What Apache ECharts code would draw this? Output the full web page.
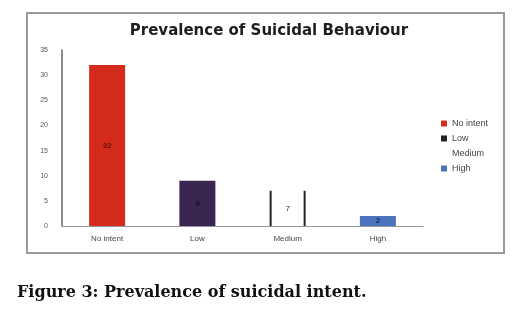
<!DOCTYPE html>
<html>
<head>
<meta charset="utf-8">
<script src="https://cdn.jsdelivr.net/npm/echarts@6/dist/echarts.min.js"></script>
<style>
  html, body { margin: 0; padding: 0; background: #fff; }
  #chart-container { width: 527px; height: 313px; }
</style>
</head>
<body>
<div id="chart-container"></div>
<script>
var categories = ['No intent', 'Low', 'Medium', 'High'];
var noIntent = [32, '-', '-', '-'];
var low = ['-', 9, '-', '-'];
var medium = [['Medium', 7]];
var high = ['-', '-', '-', 2];
var yTicks = [0, 5, 10, 15, 20, 25, 30, 35];

var myChart = echarts.init(document.getElementById('chart-container'));

// bars with the value written in the middle
function barSeries(name, data, color, labelColor) {
    return {
        name: name,
        type: 'bar',
        stack: 'all',
        barWidth: 36,
        data: data,
        itemStyle: { color: color },
        label: {
            show: true,
            position: 'inside',
            fontSize: 8,
            fontWeight: 'bold',
            color: labelColor
        }
    };
}

var option = {
    backgroundColor: '#fff',
    animation: false,
    title: {
        text: 'Prevalence of Suicidal Behaviour',
        left: 264,
        textAlign: 'center',
        top: 19,
        textStyle: {
            fontFamily: 'DejaVu Sans',
            fontSize: 15,
            fontWeight: 'bold',
            color: '#1e1e1e'
        }
    },
    legend: {
        orient: 'vertical',
        left: 436,
        top: 114,
        itemWidth: 6,
        itemHeight: 6,
        itemGap: 6,
        textStyle: { fontFamily: 'Liberation Sans', fontSize: 9, color: '#444' },
        data: [
            { name: 'No intent', icon: 'rect' },
            { name: 'Low', icon: 'rect', itemStyle: { color: '#222' } },
            { name: 'Medium', icon: 'rect', itemStyle: { color: 'rgba(0,0,0,0)' } },
            { name: 'High', icon: 'rect' }
        ]
    },
    grid: { left: 62, right: 104, top: 50, bottom: 87 },
    xAxis: {
        type: 'category',
        data: categories,
        axisLine: { lineStyle: { color: '#999', width: 1 } },
        axisTick: { show: false },
        axisLabel: { fontFamily: 'Liberation Sans', fontSize: 8, color: '#444', margin: 9 }
    },
    yAxis: {
        type: 'value',
        min: yTicks[0],
        max: yTicks[yTicks.length - 1],
        interval: 5,
        splitLine: { show: false },
        axisLine: { show: true, lineStyle: { color: '#666', width: 1.5 } },
        axisTick: { show: false },
        axisLabel: { fontFamily: 'Liberation Sans', fontSize: 7, color: '#555', margin: 14 }
    },
    graphic: [
        {
            type: 'rect',
            shape: { x: 27, y: 13, width: 477, height: 240 },
            style: { fill: 'none', stroke: '#999', lineWidth: 2 }
        },
        {
            type: 'text',
            left: 17,
            top: 285,
            style: {
                text: 'Figure 3: Prevalence of suicidal intent.',
                fontFamily: 'DejaVu Serif',
                fontWeight: 'bold',
                fontSize: 16,
                fill: '#111'
            }
        }
    ],
    series: [
        barSeries('No intent', noIntent, '#d42b1c', '#6b0f08'),
        barSeries('Low', low, '#3b2652', '#1a1025'),
        {
            // the medium bar is only drawn as two upright lines
            name: 'Medium',
            type: 'custom',
            data: medium,
            itemStyle: { color: '#222' },
            renderItem: function (params, api) {
                var base = api.coord([api.value(0), 0]);
                var top = api.coord([api.value(0), api.value(1)]);
                var half = 17;
                return {
                    type: 'group',
                    children: [
                        { type: 'line', shape: { x1: base[0] - half, y1: base[1], x2: top[0] - half, y2: top[1] },
                          style: { stroke: '#222', lineWidth: 2 } },
                        { type: 'line', shape: { x1: base[0] + half, y1: base[1], x2: top[0] + half, y2: top[1] },
                          style: { stroke: '#222', lineWidth: 2 } },
                        { type: 'text', x: base[0], y: (base[1] + top[1]) / 2,
                          style: { text: String(api.value(1)), fontSize: 8, fill: '#333', align: 'center', verticalAlign: 'middle' } }
                    ]
                };
            }
        },
        barSeries('High', high, '#4a74bd', '#1a2a50')
    ]
};
myChart.setOption(option);
</script>
</body>
</html>
